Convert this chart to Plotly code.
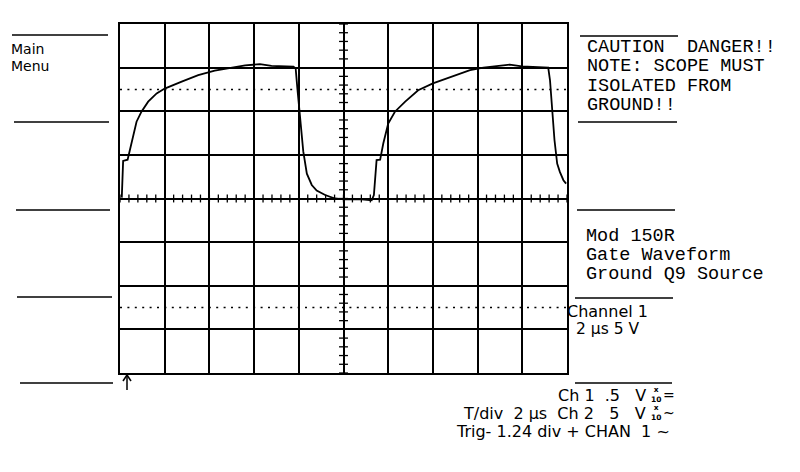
import plotly.graph_objects as go

time_div = [0.04, 0.05, 0.07, 0.17, 0.22, 0.30, 0.37, 0.48, 0.63, 0.82, 1.00, 1.38, 1.75, 2.12,
            2.50, 2.80, 3.13, 3.39, 3.88, 3.93, 3.97, 4.01, 4.10, 4.18, 4.29, 4.40, 4.59, 4.81,
            5.02, 5.41, 5.63, 5.68, 5.74, 5.82, 5.89, 6.00, 6.15, 6.38, 6.67, 7.00, 7.42, 7.83,
            8.13, 8.43, 8.72, 8.99, 9.58, 9.62, 9.66, 9.72, 9.78, 9.84, 9.92, 9.98]
level_div = [0.02, 0.50, 0.86, 0.89, 1.11, 1.49, 1.76, 1.99, 2.22, 2.41, 2.52, 2.68, 2.83, 2.93,
             3.00, 3.05, 3.08, 3.04, 3.02, 2.98, 2.50, 2.00, 1.08, 0.57, 0.31, 0.18, 0.08, 0.00,
             -0.02, -0.02, -0.04, 0.08, 0.88, 0.89, 1.26, 1.72, 1.99, 2.22, 2.48, 2.64, 2.79, 2.94,
             3.00, 3.04, 3.07, 3.03, 3.00, 2.71, 2.10, 1.34, 0.80, 0.61, 0.42, 0.34]

cursor_levels = [2.5, -2.5]

caution_lines = ["CAUTION  DANGER!!", "NOTE: SCOPE MUST", "ISOLATED FROM", "GROUND!!"]
model_lines = ["Mod 150R", "Gate Waveform", "Ground Q9 Source"]

W, H = 800, 472
OFF = 8  # page margin offset applied by the browser
L, R, T, B = 120 - OFF, 567 - OFF, 24 - OFF, 373 - OFF


def px(x, y):
    x -= OFF
    y -= OFF
    return (x - L) / (R - L), (B - y) / (B - T)


fig = go.Figure()
fig.add_trace(go.Scatter(x=time_div, y=level_div, mode="lines",
                         line=dict(color="black", width=1.8), hoverinfo="skip"))

shapes = []
# minor ticks on the centre axes
for i in range(51):
    v = i * 0.2
    shapes.append(dict(type="line", xref="x", yref="y", x0=v, x1=v, y0=-0.09, y1=0.09,
                       line=dict(color="black", width=1.3)))
for i in range(41):
    v = -4 + i * 0.2
    shapes.append(dict(type="line", xref="x", yref="y", x0=4.9, x1=5.1, y0=v, y1=v,
                       line=dict(color="black", width=1.3)))
# cursors
for c in cursor_levels:
    shapes.append(dict(type="line", xref="x", yref="y", x0=0, x1=10, y0=c, y1=c,
                       line=dict(color="black", width=1.6, dash="2px,5.4px")))

# side separator lines (pixel positions)
left_lines = [(12, 108, 35), (14, 109, 122), (16, 110, 210), (17, 112, 297), (20, 113, 383)]
right_lines = [(580, 678, 36), (578, 677, 122), (577, 675, 210), (575, 673, 298), (575, 672, 383)]
for x0, x1, y in left_lines + right_lines:
    a0, b0 = px(x0, y)
    a1, b1 = px(x1, y)
    shapes.append(dict(type="line", xref="paper", yref="paper", x0=a0, x1=a1, y0=b0, y1=b1,
                       line=dict(color="black", width=1.5)))
# trigger arrow at bottom-left
for (xa, ya, xb, yb) in [(127, 375, 127, 390), (127, 375, 123, 381), (127, 375, 131, 381)]:
    a0, b0 = px(xa, ya)
    a1, b1 = px(xb, yb)
    shapes.append(dict(type="line", xref="paper", yref="paper", x0=a0, x1=a1, y0=b0, y1=b1,
                       line=dict(color="black", width=1.5)))

annotations = []


def txt(text, x, y, size, family, anchor="left"):
    a, b = px(x, y)
    annotations.append(dict(text=text, x=a, y=b, xref="paper", yref="paper", showarrow=False,
                            xanchor=anchor, yanchor="middle", borderpad=0,
                            font=dict(size=size, family=family, color="black")))


sans = "DejaVu Sans"
mono = "Liberation Mono"
txt("Main", 10, 49.5, 14, sans)
txt("Menu", 10, 66.5, 14, sans)
for i, s in enumerate(caution_lines):
    txt(s, 586, 48 + i * 19, 18.5, mono)
for i, s in enumerate(model_lines):
    txt(s, 585, 236 + i * 19, 18.5, mono)
txt("Channel 1", 566, 311, 16, sans)
txt("2 µs 5 V", 575, 329, 15.5, sans)
txt("Ch 1  .5   V", 647, 395, 16, sans, "right")
txt("T/div  2 µs  Ch 2   5   V", 647, 413, 16, sans, "right")
txt("Trig- 1.24 div + CHAN  1 ~", 455, 431, 16, sans)
for yy in (394, 412):
    txt("<b>x</b><br><b>10</b>", 650, yy, 7.5, sans)
txt("=", 662, 395, 14, sans)
txt("~", 662, 413, 14, sans)

axis_common = dict(showgrid=True, gridcolor="black", gridwidth=1.5, zeroline=False,
                   showticklabels=False, ticks="", showline=True, linecolor="black",
                   linewidth=1.5, mirror=True, fixedrange=True)
fig.update_layout(
    width=W, height=H,
    margin=dict(l=L, r=W - R, t=T, b=H - B),
    paper_bgcolor="white", plot_bgcolor="white",
    showlegend=False,
    xaxis=dict(range=[0, 10], dtick=1, tick0=0, **axis_common),
    yaxis=dict(range=[-4, 4], dtick=1, tick0=0, **axis_common),
    shapes=shapes, annotations=annotations,
)
fig.write_html("out.html")
